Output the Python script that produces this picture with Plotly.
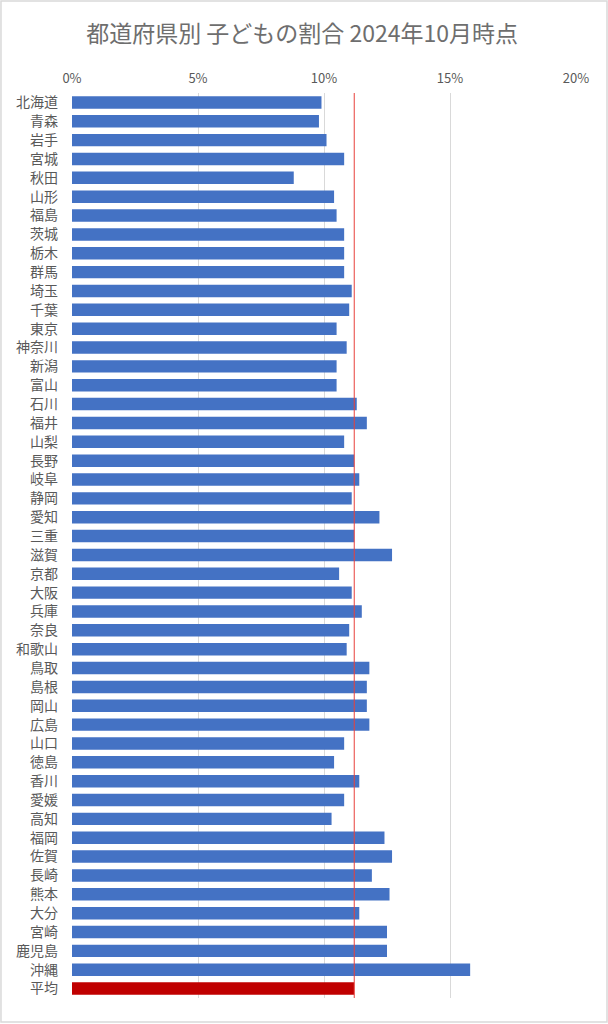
import plotly.graph_objects as go

# 都道府県別 子どもの割合 (%), 2024年10月時点
prefectures = [
    "北海道", "青森", "岩手", "宮城", "秋田", "山形", "福島", "茨城", "栃木", "群馬",
    "埼玉", "千葉", "東京", "神奈川", "新潟", "富山", "石川", "福井", "山梨", "長野",
    "岐阜", "静岡", "愛知", "三重", "滋賀", "京都", "大阪", "兵庫", "奈良", "和歌山",
    "鳥取", "島根", "岡山", "広島", "山口", "徳島", "香川", "愛媛", "高知", "福岡",
    "佐賀", "長崎", "熊本", "大分", "宮崎", "鹿児島", "沖縄", "平均",
]
child_share = [
    9.9, 9.8, 10.1, 10.8, 8.8, 10.4, 10.5, 10.8, 10.8, 10.8,
    11.1, 11.0, 10.5, 10.9, 10.5, 10.5, 11.3, 11.7, 10.8, 11.2,
    11.4, 11.1, 12.2, 11.2, 12.7, 10.6, 11.1, 11.5, 11.0, 10.9,
    11.8, 11.7, 11.7, 11.8, 10.8, 10.4, 11.4, 10.8, 10.3, 12.4,
    12.7, 11.9, 12.6, 11.4, 12.5, 12.5, 15.8, 11.2,
]
x_ticks = [0, 5, 10, 15, 20]
x_ticktext = [f"{v}%" for v in x_ticks]
average = child_share[prefectures.index("平均")]

FONT = "Noto Sans CJK JP"
GRAY = "#595959"
colors = ["#C00000" if p == "平均" else "#4472C4" for p in prefectures]

fig = go.Figure(go.Bar(
    x=child_share,
    y=prefectures,
    orientation="h",
    marker=dict(color=colors, line=dict(width=0)),
    width=0.66,
))

# 平均の縦線
fig.add_vline(x=average, line=dict(color="#E8413B", width=1), layer="above")

# chart border
fig.add_shape(type="rect", xref="paper", yref="paper",
              x0=-0.1409, x1=1.0615, y0=-0.0265, y1=1.1017,
              line=dict(color="#D9D9D9", width=1.5), layer="below")

fig.update_layout(
    width=608, height=1024,
    margin=dict(l=72, r=32, t=93, b=26),
    paper_bgcolor="white", plot_bgcolor="white",
    showlegend=False,
    font=dict(family=FONT, color=GRAY),
    title=dict(
        text="都道府県別 子どもの割合 2024年10月時点",
        x=0.497, xanchor="center", y=0.967, yanchor="middle",
        font=dict(family=FONT, size=23, color="#6E6E6E"),
    ),
    xaxis=dict(
        side="top", range=[0, 20], tickmode="array",
        tickvals=x_ticks, ticktext=x_ticktext,
        showgrid=True, gridcolor="#D9D9D9", gridwidth=1,
        zeroline=False, showline=False, ticks="",
        tickfont=dict(size=13, color=GRAY), ticklabelstandoff=6,
        fixedrange=True,
    ),
    yaxis=dict(
        autorange="reversed", showgrid=False, zeroline=False,
        showline=False, ticks="",
        tickfont=dict(size=14, color=GRAY), ticklabelstandoff=13,
        fixedrange=True,
    ),
)

fig.write_html("out.html", config={"displayModeBar": False},
               post_script="document.body.style.margin='0';")
